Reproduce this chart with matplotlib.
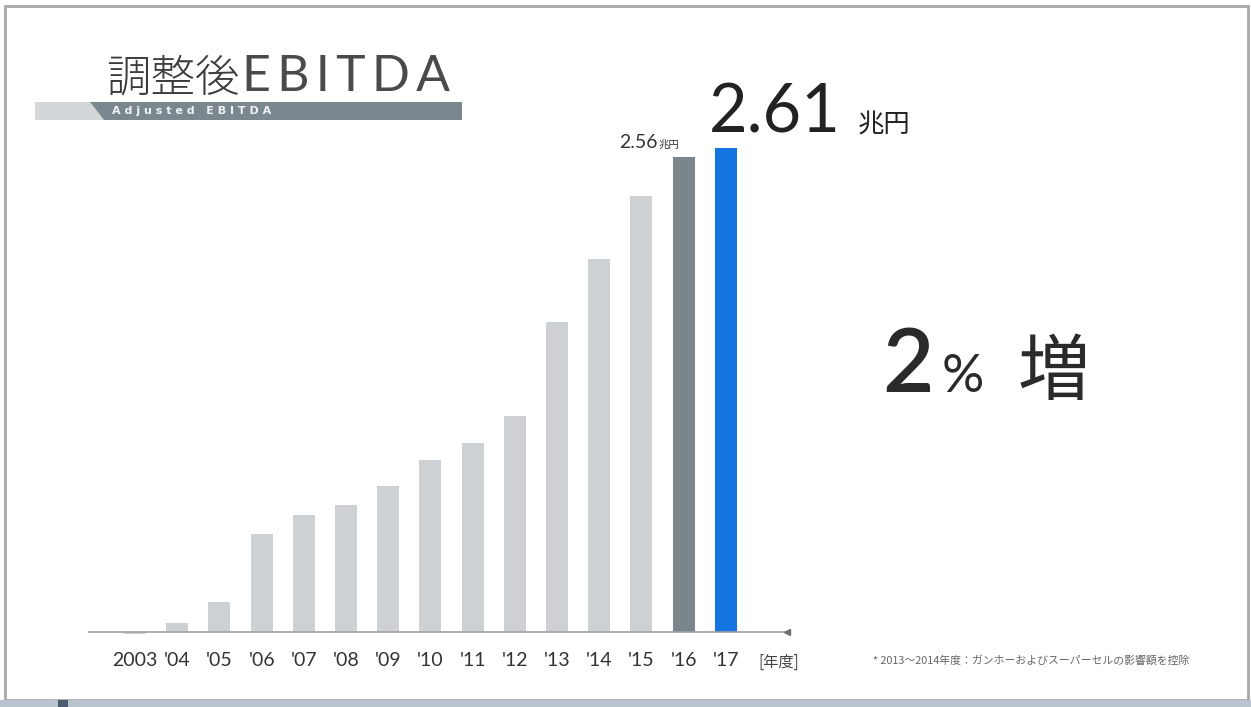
import matplotlib.pyplot as plt
from matplotlib.patches import Rectangle, Polygon

plt.rcParams['font.family'] = ['Noto Sans CJK JP', 'DejaVu Sans']

years = ["2003", "'04", "'05", "'06", "'07", "'08", "'09", "'10", "'11",
         "'12", "'13", "'14", "'15", "'16", "'17"]
ebitda = [-0.01, 0.05, 0.16, 0.53, 0.63, 0.685, 0.79, 0.93, 1.02,
          1.165, 1.67, 2.01, 2.35, 2.56, 2.61]
prev_label = "2.56"
curr_label = "2.61"
growth = "2"

W, H = 1251, 707
fig = plt.figure(figsize=(W / 100, H / 100), dpi=100)
fig.patch.set_facecolor('white')


def fx(px):
    return px / W


def fy(py):
    return 1 - py / H


# slide frame and bottom strip
fig.add_artist(Rectangle((fx(5), fy(700)), fx(1243), 694 / H, transform=fig.transFigure,
                         fill=False, ec='#a8a8a8', lw=2))
fig.add_artist(Rectangle((0, 0), 1, 7 / H, transform=fig.transFigure, fc='#b9c4cf', ec='none'))
fig.add_artist(Rectangle((fx(58), 0), fx(10), 7 / H, transform=fig.transFigure, fc='#4d5b70', ec='none'))

# title
fig.text(fx(106), fy(92), '調整後', fontsize=32, color='#3c3c3c', fontweight='light',
         va='baseline', ha='left')
fig.text(fx(242), fy(91), '\u2009'.join('EBITDA'), fontsize=36, color='#4a4a4a', fontweight='normal',
         va='baseline', ha='left', family=['Lato', 'DejaVu Sans'])
fig.add_artist(Polygon([(fx(35), fy(102)), (fx(90), fy(102)), (fx(104), fy(120)), (fx(35), fy(120))],
                       closed=True, transform=fig.transFigure, fc='#d3d7da', ec='none'))
fig.add_artist(Polygon([(fx(90), fy(102)), (fx(462), fy(102)), (fx(462), fy(120)), (fx(104), fy(120))],
                       closed=True, transform=fig.transFigure, fc='#7b878f', ec='none'))
fig.text(fx(112), fy(111), 'A d j u s t e d   E B I T D A', fontsize=8, color='#eef2f4',
         fontweight='bold', va='center', ha='left', family='DejaVu Sans')

# bar chart
ymin, ymax = -(640 - 632) / 185.4, (632 - 100) / 185.4
xmin, xmax = (88 - 135) / 42.2, (790 - 135) / 42.2
ax = fig.add_axes([fx(88), fy(640), fx(790 - 88), 540 / H])
x = list(range(len(years)))
colors = ['#cdd1d4'] * (len(years) - 2) + ['#7b868c', '#1474e0']
ax.bar(x, ebitda, width=0.52, color=colors, zorder=2)
ax.set_xlim(xmin, xmax)
ax.set_ylim(ymin, ymax)
ax.axhline(0, color='#a0a0a0', lw=1.2, zorder=3)
ax.plot([xmax - 0.08], [0], marker='<', color='#707070', ms=5, clip_on=False, zorder=4)
for s in ax.spines.values():
    s.set_visible(False)
ax.set_yticks([])
ax.set_xticks(x)
ax.set_xticklabels(years, fontsize=14, color='#333333', family=['Lato', 'DejaVu Sans'])
ax.tick_params(axis='x', length=0, pad=9)
ax.patch.set_alpha(0)
fig.text(fx(758), fy(667), '[年度]', fontsize=11, color='#444444', ha='left', va='baseline')

# value labels on the last two bars
ax.annotate(prev_label, xy=(13, ebitda[13]), xytext=(-19, 7), textcoords='offset points',
            fontsize=14, color='#333333', ha='right', va='baseline', family='Lato')
ax.annotate('兆円', xy=(13, ebitda[13]), xytext=(-18, 7), textcoords='offset points',
            fontsize=7.5, color='#333333', ha='left', va='baseline')
ax.annotate(curr_label, xy=(14, ebitda[14]), xytext=(-12, 11), textcoords='offset points',
            fontsize=48, color='#222222', ha='left', va='baseline', family='Lato')
ax.annotate('兆円', xy=(14, ebitda[14]), xytext=(95, 11), textcoords='offset points',
            fontsize=19, color='#222222', ha='left', va='baseline')

# growth callout
fig.text(fx(882), fy(392), growth, fontsize=64, color='#2a2a2a', ha='left', va='baseline',
         family='Lato', fontweight='semibold')
fig.text(fx(942), fy(392), '%', fontsize=38, color='#2a2a2a', ha='left', va='baseline', family='Lato')
fig.text(fx(1018), fy(394), '増', fontsize=52, color='#2a2a2a', ha='left', va='baseline')

# footnote
fig.text(fx(873), fy(664), '* 2013～2014年度：ガンホーおよびスーパーセルの影響額を控除',
         fontsize=7.8, color='#666666', ha='left', va='baseline')

fig.savefig('out.png', dpi=100)
